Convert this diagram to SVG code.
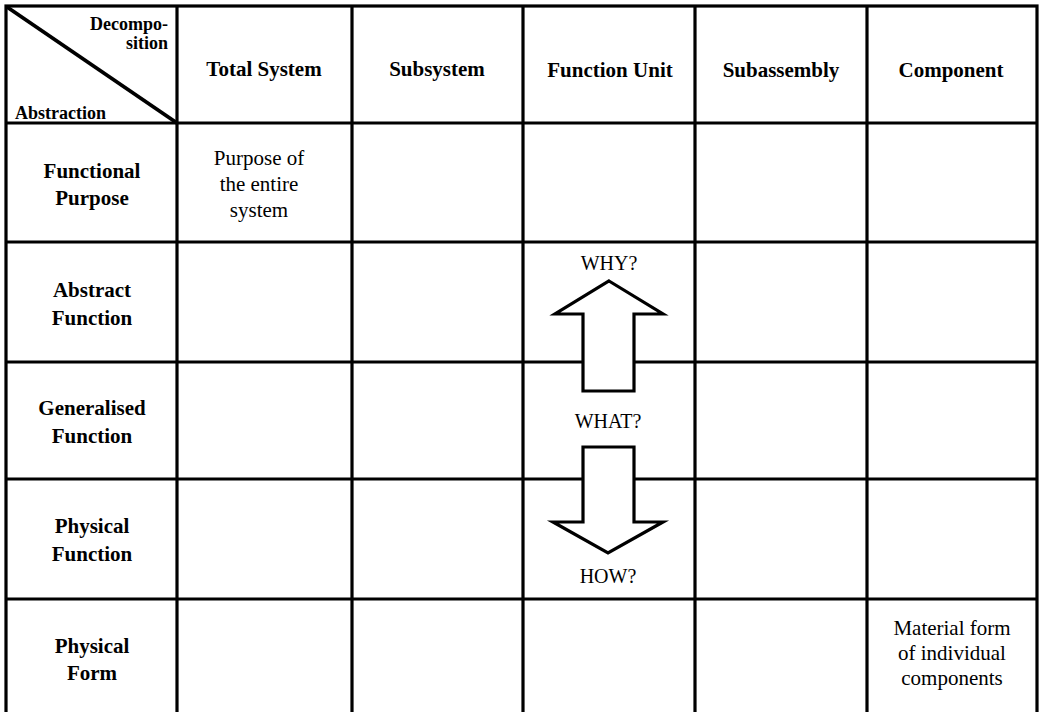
<svg xmlns="http://www.w3.org/2000/svg" width="1039" height="712" viewBox="0 0 1039 712">
  <style>
    .grid { stroke: #000; stroke-width: 3.2; fill: none; }
    .diag { stroke: #000; stroke-width: 3.8; }
    .hd { font-family: "Liberation Serif", "Times New Roman", serif; font-weight: bold; font-size: 21px; text-anchor: middle; fill: #000; }
    .corner { font-family: "Liberation Serif", "Times New Roman", serif; font-weight: bold; font-size: 18px; fill: #000; }
    .body { font-family: "Liberation Serif", "Times New Roman", serif; font-size: 21px; text-anchor: middle; fill: #000; }
    .q { font-family: "Liberation Serif", "Times New Roman", serif; font-size: 20px; text-anchor: middle; fill: #000; }
    .arrow { fill: #fff; stroke: #000; stroke-width: 3.2; stroke-linejoin: miter; }
  </style>

  <rect width="1039" height="712" fill="#fff"/>

  <!-- table grid -->
  <g id="grid" class="grid">
    <rect x="6" y="6" width="1031" height="712"/>
    <line x1="177" y1="6" x2="177" y2="718"/>
    <line x1="352" y1="6" x2="352" y2="718"/>
    <line x1="523" y1="6" x2="523" y2="718"/>
    <line x1="695" y1="6" x2="695" y2="718"/>
    <line x1="867" y1="6" x2="867" y2="718"/>
    <line x1="6" y1="123" x2="1037" y2="123"/>
    <line x1="6" y1="242" x2="1037" y2="242"/>
    <line x1="6" y1="362" x2="1037" y2="362"/>
    <line x1="6" y1="479" x2="1037" y2="479"/>
    <line x1="6" y1="599" x2="1037" y2="599"/>
  </g>

  <!-- corner cell -->
  <g id="corner">
    <line class="diag" x1="7" y1="7" x2="177" y2="123"/>
    <text class="corner" x="168" y="30" text-anchor="end">Decompo-</text>
    <text class="corner" x="168" y="49" text-anchor="end">sition</text>
    <text class="corner" x="15" y="119">Abstraction</text>
  </g>

  <!-- column headers -->
  <g id="col-total-system"><text class="hd" x="264" y="76">Total System</text></g>
  <g id="col-subsystem"><text class="hd" x="437" y="76">Subsystem</text></g>
  <g id="col-function-unit"><text class="hd" x="610" y="77">Function Unit</text></g>
  <g id="col-subassembly"><text class="hd" x="781" y="77">Subassembly</text></g>
  <g id="col-component"><text class="hd" x="951" y="77">Component</text></g>

  <!-- row headers -->
  <g id="row-functional-purpose">
    <text class="hd" x="92" y="178">Functional</text>
    <text class="hd" x="92" y="205">Purpose</text>
  </g>
  <g id="row-abstract-function">
    <text class="hd" x="92" y="297">Abstract</text>
    <text class="hd" x="92" y="325">Function</text>
  </g>
  <g id="row-generalised-function">
    <text class="hd" x="92" y="415">Generalised</text>
    <text class="hd" x="92" y="443">Function</text>
  </g>
  <g id="row-physical-function">
    <text class="hd" x="92" y="533">Physical</text>
    <text class="hd" x="92" y="561">Function</text>
  </g>
  <g id="row-physical-form">
    <text class="hd" x="92" y="653">Physical</text>
    <text class="hd" x="92" y="680">Form</text>
  </g>

  <!-- cell contents -->
  <g id="cell-purpose">
    <text class="body" x="259" y="165">Purpose of</text>
    <text class="body" x="259" y="191">the entire</text>
    <text class="body" x="259" y="217">system</text>
  </g>
  <g id="cell-material-form">
    <text class="body" x="952" y="635">Material form</text>
    <text class="body" x="952" y="660">of individual</text>
    <text class="body" x="952" y="685">components</text>
  </g>

  <!-- why / what / how arrows -->
  <g id="connectors">
    <polygon class="arrow" points="609,281 663,314 634,314 634,391 583,391 583,314 555,314"/>
    <polygon class="arrow" points="583,447 634,447 634,522 663,522 608,553 553,522 583,522"/>
  </g>
  <g id="label-why"><text class="q" x="609" y="270">WHY?</text></g>
  <g id="label-what"><text class="q" x="608" y="428">WHAT?</text></g>
  <g id="label-how"><text class="q" x="608" y="583">HOW?</text></g>
</svg>
